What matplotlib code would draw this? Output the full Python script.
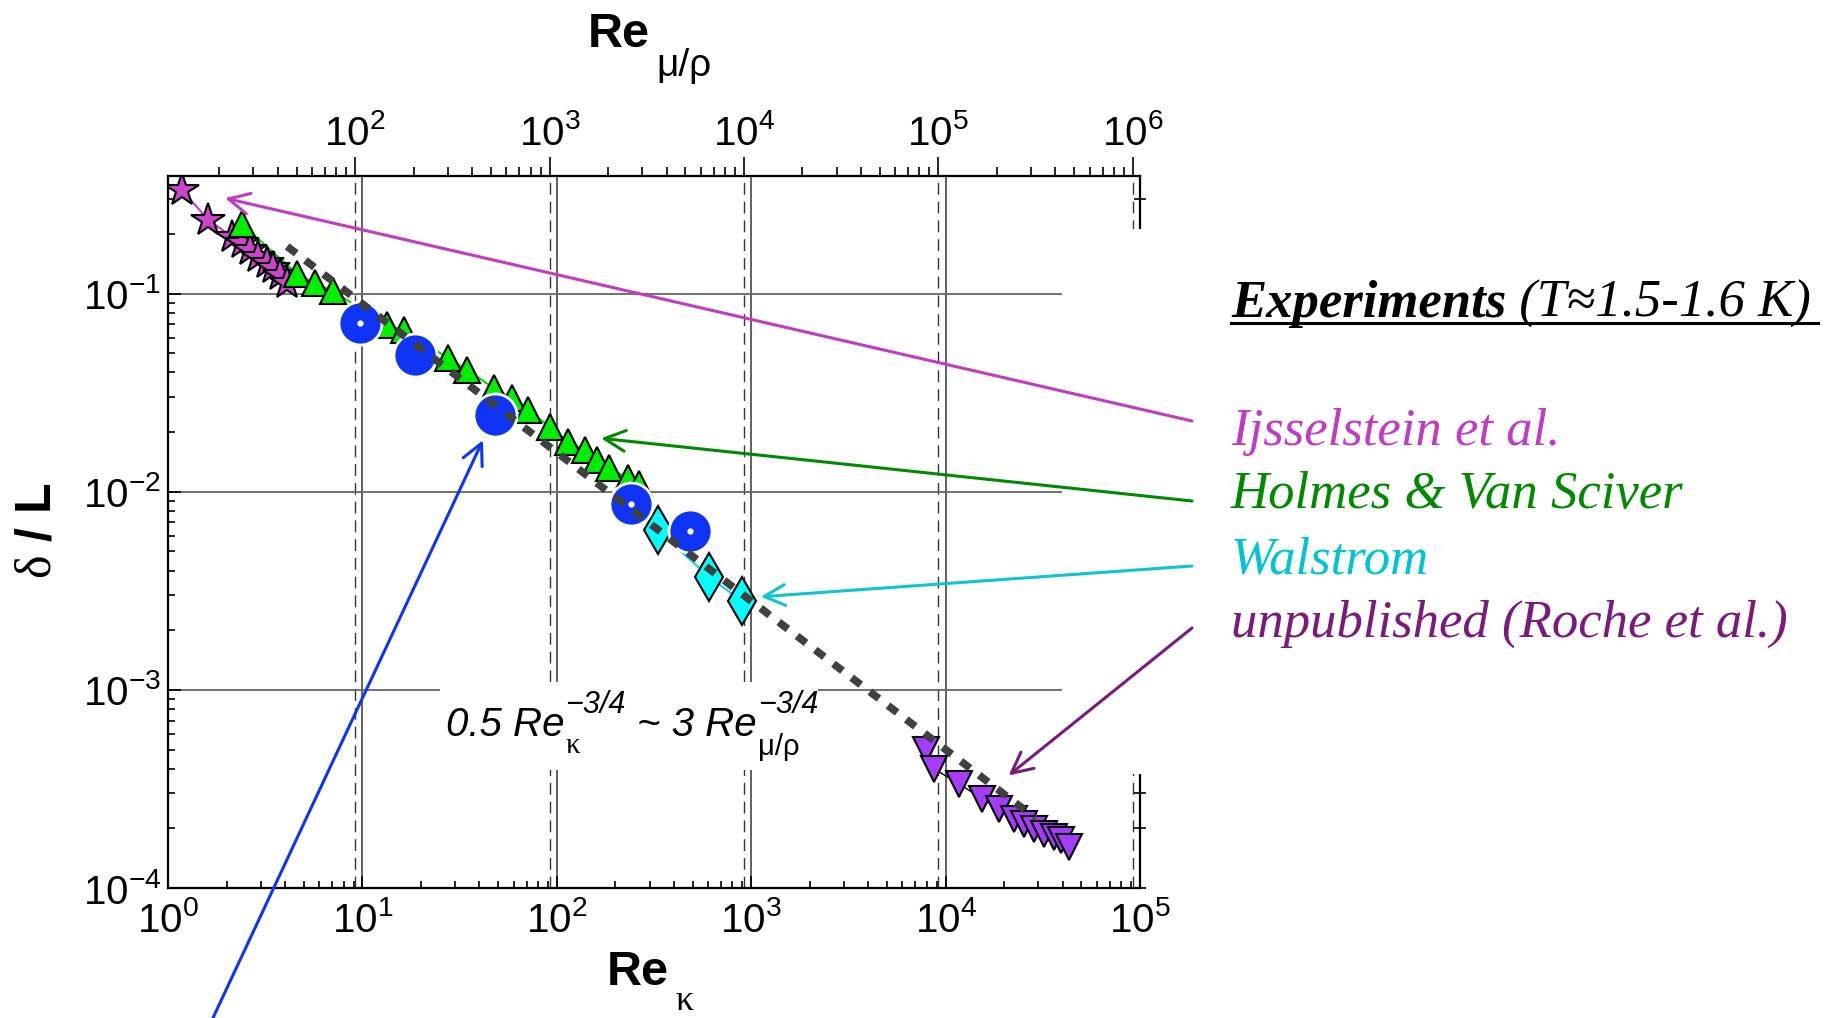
import matplotlib
matplotlib.use('Agg')
import matplotlib.pyplot as plt
from matplotlib.patches import Rectangle, ConnectionPatch
from matplotlib.lines import Line2D
from matplotlib.ticker import LogLocator, FuncFormatter, NullFormatter
import numpy as np

W, H = 1841, 1018

plt.rcParams.update({
    'font.family': ['Liberation Sans', 'DejaVu Sans'],
    'mathtext.fontset': 'custom',
    'mathtext.rm': 'Liberation Sans',
    'mathtext.it': 'Liberation Sans:italic',
    'mathtext.bf': 'Liberation Sans:bold',
    'mathtext.sf': 'Liberation Serif',
})

# conversion factor between the two Reynolds numbers (0.5 Re_k^-3/4 = 3 Re_mu^-3/4)
F = 6 ** (4 / 3)

# Ijsselstein et al. (stars)
ijss_re = [1.18, 1.61, 2.13, 2.39, 2.64, 2.92, 3.22, 3.48, 3.77, 4.08]
ijss_d = [0.334, 0.235, 0.194, 0.180, 0.166, 0.153, 0.143, 0.135, 0.124, 0.113]

# Holmes & Van Sciver (triangles)
holmes_re = [2.39, 4.6, 5.71, 7.04, 13.4, 16.4, 27.7, 34.7, 47.7, 58.5, 71.1,
             92.2, 114, 139, 161, 186, 233, 265]
holmes_d = [0.225, 0.126, 0.1126, 0.103, 0.069, 0.0655, 0.0471, 0.0411, 0.0332,
            0.0296, 0.0258, 0.0212, 0.0179, 0.0162, 0.0144, 0.0131, 0.0117, 0.011]

# Walstrom (diamonds)
walst_re = [330, 607, 894]
walst_d = [0.0064, 0.00372, 0.00281]

# big blue circles
circ_re = [9.76, 18.6, 48.3, 242, 484]
circ_d = [0.0713, 0.0489, 0.0243, 0.00871, 0.00631]
circ_dot = [True, False, False, True, True]

# unpublished, Roche et al. (down triangles)
roche_re = [7960, 8690, 11700, 15400, 18800, 22400, 25200, 28400, 32000, 36000, 39000, 43000]
roche_d = [4.99e-4, 4.00e-4, 3.36e-4, 2.82e-4, 2.51e-4, 2.24e-4, 2.11e-4, 1.99e-4,
           1.88e-4, 1.81e-4, 1.74e-4, 1.61e-4]

# 0.5 Re_k^-3/4 guide line (end points)
fit_re = [4.1, 29000]
fit_d = [0.173, 2.25e-4]

grid_re = [1e1, 1e2, 1e3, 1e4]
grid_remu = [1e2, 1e3, 1e4, 1e5, 1e6]
grid_d = [1e-1, 1e-2, 1e-3]

MAG = '#C23CC2'
GREEN_TXT = '#008A00'
CYAN_TXT = '#00C4D6'
PURP_TXT = '#7A1A7A'
BLUE = '#1034F5'


def fx(px):
    return px / W


def fy(py):
    return 1 - py / H


def sci(v, pos):
    return r'$\mathrm{10^{%d}}$' % int(round(np.log10(v)))


fig = plt.figure(figsize=(W / 100, H / 100), dpi=100)
ax = fig.add_axes([fx(168), fy(888), fx(1140) - fx(168), fy(176) - fy(888)])
ax.set_xscale('log')
ax.set_yscale('log')
ax.set_xlim(1, 1e5)
ax.set_ylim(1e-4, 0.392)

# grid
for g in grid_re:
    ax.axvline(g, color='#555555', lw=1.3, zorder=1)
for g in grid_remu:
    ax.axvline(g / F, color='#333333', lw=1.0, ls=(0, (8.5, 5)), zorder=1)
for g in grid_d:
    ax.axhline(g, color='#666666', lw=1.3, zorder=1)

# data
ax.plot(ijss_re, ijss_d, '-', color=MAG, lw=1.5, zorder=2)
ax.plot(holmes_re, holmes_d, '-', color='#00DD00', lw=1.5, zorder=2)
ax.plot(walst_re, walst_d, '-', color='#00DDEE', lw=1.5, zorder=2)
ax.plot(roche_re, roche_d, '-', color='black', lw=1.0, zorder=2)

ax.plot(ijss_re, ijss_d, '*', ms=25, mfc='#CC44CC', mec='black', mew=1.5, ls='none', zorder=3)
ax.plot(holmes_re, holmes_d, '^', ms=19, mfc='#00EE00', mec='black', mew=1.5, ls='none', zorder=4)
ax.plot(walst_re, walst_d, 'd', ms=24, mfc='#00FFFF', mec='black', mew=1.5, ls='none', zorder=5)
ax.plot(roche_re, roche_d, 'v', ms=19, mfc='#A63CFA', mec='black', mew=1.5, ls='none', zorder=4)
ax.plot(circ_re, circ_d, 'o', ms=31, mfc=BLUE, mec='white', mew=2, ls='none', zorder=6)
ax.plot([r for r, k in zip(circ_re, circ_dot) if k], [d for d, k in zip(circ_d, circ_dot) if k],
        'o', ms=3.5, mfc='white', mec='white', ls='none', zorder=7)

ax.plot(fit_re, fit_d, color='#404040', lw=5.5, ls=(0, (1.5, 1.5)), dash_capstyle='butt', zorder=10)

# bottom / left ticks
ax.xaxis.set_major_locator(LogLocator(base=10, numticks=12))
ax.xaxis.set_minor_locator(LogLocator(base=10, subs=np.arange(2, 10), numticks=12))
ax.yaxis.set_major_locator(LogLocator(base=10, numticks=12))
ax.yaxis.set_minor_locator(LogLocator(base=10, subs=np.arange(2, 10), numticks=12))
ax.xaxis.set_major_formatter(FuncFormatter(sci))
ax.yaxis.set_major_formatter(FuncFormatter(sci))
ax.xaxis.set_minor_formatter(NullFormatter())
ax.yaxis.set_minor_formatter(NullFormatter())
ax.tick_params(which='both', direction='in', top=False, right=False, labelsize=29, width=1.2)
ax.tick_params(which='major', length=9)
ax.tick_params(which='minor', length=5)
ax.tick_params(axis='x', pad=9)
ax.tick_params(axis='y', pad=5)
for s in ax.spines.values():
    s.set_linewidth(1.5)

# top axis: Re_mu/rho
axt = ax.twiny()
axt.set_xscale('log')
axt.set_xlim(F, 1e5 * F)
axt.xaxis.set_major_locator(LogLocator(base=10, numticks=12))
axt.xaxis.set_minor_locator(LogLocator(base=10, subs=np.arange(2, 10), numticks=12))
axt.xaxis.set_major_formatter(FuncFormatter(sci))
axt.xaxis.set_minor_formatter(NullFormatter())
axt.tick_params(which='both', direction='out', top=True, labeltop=True, bottom=False,
                labelbottom=False, labelsize=29, pad=3, width=1.2)
axt.tick_params(which='major', length=13.5)
axt.tick_params(which='minor', length=6.5)

# right axis ticks
axr = ax.twinx()
axr.set_yscale('log')
axr.set_ylim(1e-4, 0.392)
axr.yaxis.set_minor_locator(LogLocator(base=10, subs=np.arange(2, 10), numticks=12))
axr.yaxis.set_minor_formatter(NullFormatter())
axr.tick_params(which='both', direction='inout', right=True, labelright=False, left=False,
                length=9, width=1.2)
for a in (axt, axr):
    for s in a.spines.values():
        s.set_linewidth(1.5)

# white panel hiding the right part of the frame
fig.add_artist(Rectangle((fx(1062), fy(774)), fx(1200) - fx(1062), fy(229) - fy(774),
                         transform=fig.transFigure, fc='white', ec='none', zorder=1))

# axis labels
fig.text(fx(607), fy(985), 'Re', size=35, weight='bold', va='baseline', ha='left', zorder=3)
fig.text(fx(675), fy(1010), 'κ', size=26, family='Liberation Serif', va='baseline', ha='left', zorder=3)
fig.text(fx(588), fy(47), 'Re', size=35, weight='bold', va='baseline', ha='left', zorder=3)
fig.text(fx(656), fy(76), 'μ/ρ', size=28, va='baseline', ha='left', zorder=3)
fig.text(fx(37), fy(531), r'$\mathsf{\delta}\ \mathbf{/\ L}$', size=36, rotation=90,
         ha='center', va='center', zorder=3)

r = fig.canvas.get_renderer()


def chain(x, y, s, **kw):
    # place a text at pixel (x, baseline y) and return its right edge in pixels
    t = fig.text(fx(x), fy(y), s, va='baseline', ha='left', zorder=3, **kw)
    return t.get_window_extent(renderer=r).x1


# scaling formula, with its white background
fig.add_artist(Rectangle((fx(440), fy(770)), fx(818) - fx(440), fy(682) - fy(770),
                         transform=fig.transFigure, fc='white', ec='none', zorder=2.5))
xe = chain(446, 736, '0.5 Re', size=29, style='italic')
chain(xe + 1, 753, 'κ', size=21, family='Liberation Serif')
xs = chain(xe + 1, 713, '−3/4', size=22, style='italic')
xe = chain(xs + 11, 736, '~ 3 Re', size=29, style='italic')
chain(xe + 1, 755, 'μ/ρ', size=21)
chain(xe + 2, 713, '−3/4', size=22, style='italic')

# legend block on the right
serif = 'Liberation Serif'
x1 = chain(1231, 317, 'Experiments', family=serif, style='italic', weight='bold', size=38)
chain(x1, 317, ' (T≈1.5-1.6 K)', family=serif, style='italic', size=38)
fig.add_artist(Line2D([fx(1231), fx(1818)], [fy(323), fy(323)], transform=fig.transFigure,
                      color='black', lw=2.2, zorder=3))

labels = ['Ijsselstein et al.', 'Holmes & Van Sciver', 'Walstrom', 'unpublished (Roche et al.)']
label_colors = [MAG, GREEN_TXT, CYAN_TXT, PURP_TXT]
label_base = [445, 508, 573, 637]
for lab, c, yb in zip(labels, label_colors, label_base):
    chain(1231, yb, lab, family=serif, style='italic', size=38, color=c)

# arrows: from the legend block to the data sets
arrow_start = [(1192, 421), (1192, 501), (1192, 566), (1192, 628), (205, 1035)]
arrow_tip = [(1.965, 0.303), (169, 0.0186), (1120, 0.00295), (21100, 3.70e-4), (41.7, 0.0182)]
arrow_colors = [MAG, GREEN_TXT, '#10C4D4', PURP_TXT, BLUE]
for (sx, sy), tip, c in zip(arrow_start, arrow_tip, arrow_colors):
    con = ConnectionPatch(xyA=(fx(sx), fy(sy)), coordsA='figure fraction',
                          xyB=tip, coordsB='data', axesB=ax,
                          arrowstyle='->,head_length=0.5,head_width=0.25',
                          mutation_scale=30, color=c, lw=2.2, shrinkA=0, shrinkB=0)
    con.set_zorder(2)
    fig.add_artist(con)

fig.savefig('out.png', dpi=100, facecolor='white')
